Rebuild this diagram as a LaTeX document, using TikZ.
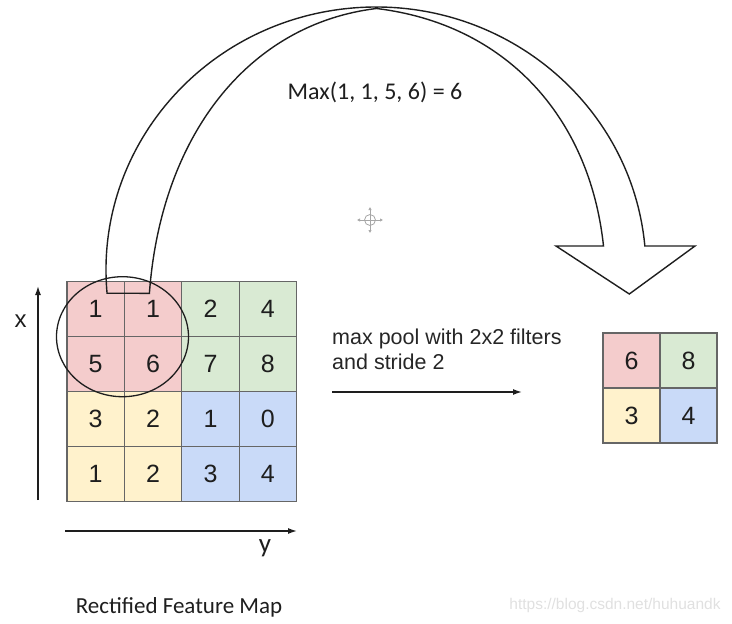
\documentclass[tikz,border=0pt]{standalone}
\usepackage{fontspec}
\setmainfont{Liberation Sans}
\newfontfamily\calib{Carlito}
\usetikzlibrary{arrows.meta,calc}
\definecolor{cpink}{HTML}{F4CCCC}
\definecolor{cgreen}{HTML}{D9EAD3}
\definecolor{cyellow}{HTML}{FFF2CC}
\definecolor{cblue}{HTML}{C9DAF8}
\definecolor{gridc}{HTML}{666666}
\definecolor{inkc}{HTML}{1E1E1E}
\begin{document}
\begin{tikzpicture}[x=1pt,y=-1pt,
  cell/.style={draw=gridc, line width=1.1pt, minimum width=57.4pt, minimum height=55pt,
    inner sep=0pt, font=\fontsize{25}{28}\selectfont, text=inkc, anchor=center},
  ocell/.style={cell, minimum width=57pt},
  axis/.style={line width=1.4pt, inkc, -{Latex[length=9pt,width=6pt]}},
  bigarrow/.style={line width=1.4pt, inkc, line join=miter},
  lbl/.style={inner sep=0pt, text=inkc}]
\useasboundingbox (0,0) rectangle (732,624);
% input feature map
\node[cell, fill=cpink]   (a11) at (95.7,309) {1};
\node[cell, fill=cpink]   (a12) at (153.1,309) {1};
\node[cell, fill=cgreen]  (a13) at (210.5,309) {2};
\node[cell, fill=cgreen]  (a14) at (267.9,309) {4};
\node[cell, fill=cpink]   (a21) at (95.7,364) {5};
\node[cell, fill=cpink]   (a22) at (153.1,364) {6};
\node[cell, fill=cgreen]  (a23) at (210.5,364) {7};
\node[cell, fill=cgreen]  (a24) at (267.9,364) {8};
\node[cell, fill=cyellow] (a31) at (95.7,419) {3};
\node[cell, fill=cyellow] (a32) at (153.1,419) {2};
\node[cell, fill=cblue]   (a33) at (210.5,419) {1};
\node[cell, fill=cblue]   (a34) at (267.9,419) {0};
\node[cell, fill=cyellow] (a41) at (95.7,474) {1};
\node[cell, fill=cyellow] (a42) at (153.1,474) {2};
\node[cell, fill=cblue]   (a43) at (210.5,474) {3};
\node[cell, fill=cblue]   (a44) at (267.9,474) {4};
% output
\node[ocell, fill=cpink]   (b11) at (631.5,360.5) {6};
\node[ocell, fill=cgreen]  (b12) at (688.5,360.5) {8};
\node[ocell, fill=cyellow] (b21) at (631.5,415.5) {3};
\node[ocell, fill=cblue]   (b22) at (688.5,415.5) {4};
% circle around the window
\draw[line width=1.3pt, inkc] (122.5,336.7) ellipse [x radius=66, y radius=60];
% big curved arrow
\draw[bigarrow] (376,270) ++(174.92:270 and 263)
  arc[start angle=174.92, end angle=354.76, x radius=270, y radius=263]
  -- (695,246) -- (629.3,294) -- (556,246) -- (603.5,246)
  .. controls (589.6,116) and (505,24) .. (376.5,8.5)
  .. controls (248,24) and (160.9,136.3) .. (149.4,293.3) -- cycle;
% move handle icon
\begin{scope}[gray!70, line width=0.8pt]
  \draw (370,220) circle (5.5);
  \draw (364.5,220) -- (375.5,220) (370,214.5) -- (370,225.5);
  \draw[-{Latex[length=3pt,width=3.5pt]}] (370,214.5) -- (370,207);
  \draw[-{Latex[length=3pt,width=3.5pt]}] (370,225.5) -- (370,233);
  \draw[-{Latex[length=3pt,width=3.5pt]}] (364.5,220) -- (357,220);
  \draw[-{Latex[length=3pt,width=3.5pt]}] (375.5,220) -- (383,220);
\end{scope}
% axes
\coordinate (xa0) at (38,500);
\coordinate (xa1) at (38,286);
\coordinate (ya0) at (65,531);
\coordinate (ya1) at (297,531);
\draw[axis] (xa0) -- (xa1);
\draw[axis] (ya0) -- (ya1);
\node[lbl, font=\fontsize{24}{26}\selectfont] (xl) at (20.5,321) {x};
\node[lbl, font=\calib\fontsize{27}{30}\selectfont] (yl) at (265,548) {y};
% pooling arrow
\coordinate (p0) at (332,392);
\coordinate (p1) at (522,392);
\draw[axis] (p0) -- (p1);
\node[lbl, anchor=north west, align=left, font=\fontsize{21.5}{25}\selectfont, text=black!85] (mp) at (332,328.5)
  {max pool with 2x2 filters\\and stride 2};
% labels
\node[lbl, font=\calib\fontsize{24}{28}\selectfont] (maxl) at (375,92) {Max(1, 1, 5, 6) = 6};
\node[lbl, font=\calib\fontsize{23}{28}\selectfont] (rfm) at (179,607) {Rectified Feature Map};
\node[lbl, font=\fontsize{15.5}{18}\selectfont, text=black!12] (wm) at (615,605) {https://blog.csdn.net/huhuandk};
\end{tikzpicture}
\end{document}
